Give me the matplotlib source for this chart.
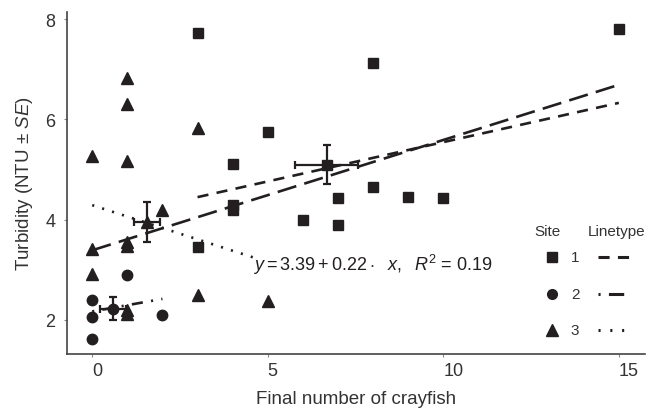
import matplotlib
matplotlib.use('Agg')
import matplotlib.pyplot as plt
from matplotlib.lines import Line2D

plt.rcParams['font.family'] = ['Liberation Sans', 'DejaVu Sans']
plt.rcParams['mathtext.fontset'] = 'custom'
plt.rcParams['mathtext.rm'] = 'Liberation Sans'
plt.rcParams['mathtext.it'] = 'Liberation Sans:italic'
plt.rcParams['lines.scale_dashes'] = False

INK = '#231f20'
TXT = '#333333'

# raw points per site
site1_x = [3, 5, 4, 4, 4, 3, 6, 7, 7, 8, 8, 9, 10, 15]
site1_y = [7.72, 5.74, 5.12, 4.30, 4.20, 3.46, 4.00, 4.43, 3.89, 7.12, 4.66, 4.45, 4.43, 7.80]
site2_x = [0, 0, 0, 1, 2]
site2_y = [2.40, 2.06, 1.62, 2.90, 2.10]
site3_x = [0, 1, 1, 1, 3, 2, 0, 1, 1, 0, 3, 5, 1, 1]
site3_y = [5.28, 6.83, 6.31, 5.17, 5.83, 4.19, 3.42, 3.55, 3.47, 2.92, 2.50, 2.38, 2.20, 2.12]

# site means with SE
mean_x = [6.68, 0.59, 1.55]
mean_y = [5.10, 2.22, 3.96]
se_x = [0.89, 0.38, 0.37]
se_y = [0.38, 0.23, 0.40]

# fitted lines (end points)
fit1_x = [3, 15];  fit1_y = [4.45, 6.33]
fit2_x = [0, 2];   fit2_y = [2.17, 2.42]
fit3_x = [0, 4.75]; fit3_y = [4.29, 3.21]
fitall_x = [0, 15]; fitall_y = [3.39, 6.69]

markers = ['s', 'o', '^']
msizes = [7.5, 7.5, 9]
site_labels = ['1', '2', '3']
dash1 = (0, (8, 6))
dash2 = (0, (1.5, 6, 8, 6))
dash3 = (0, (1.5, 6))
dash_all = (0, (14, 6))

fig = plt.figure(figsize=(6.5, 4.1), dpi=100)
ax = fig.add_axes([0.103, 0.134, 0.889, 0.834])

ax.plot(fitall_x, fitall_y, color=INK, lw=1.9, linestyle=dash_all, zorder=2)
ax.plot(fit1_x, fit1_y, color=INK, lw=1.9, linestyle=dash1, zorder=2)
ax.plot(fit2_x, fit2_y, color=INK, lw=1.9, linestyle=dash2, zorder=2)
ax.plot(fit3_x, fit3_y, color=INK, lw=1.9, linestyle=dash3, zorder=2)

for xs, ys, m, s in zip([site1_x, site2_x, site3_x], [site1_y, site2_y, site3_y], markers, msizes):
    ax.plot(xs, ys, linestyle='none', marker=m, markersize=s, color=INK, zorder=3)

for i in range(3):
    ax.errorbar(mean_x[i], mean_y[i], xerr=se_x[i], yerr=se_y[i], fmt=markers[i],
                markersize=msizes[i], color=INK, ecolor=INK, elinewidth=1.6,
                capsize=3, capthick=1.6, zorder=4)

ax.text(4.58, 3.12, r'$y = 3.39 + 0.22\cdot\ \ x,\ \ R^2$ = 0.19', fontsize=13,
        color=INK, ha='left', va='center')

ax.set_xlim(-0.72, 15.74)
ax.set_ylim(1.32, 8.14)
ax.set_xticks([0, 5, 10, 15])
ax.set_yticks([2, 4, 6, 8])
for sp in ['top', 'right']:
    ax.spines[sp].set_visible(False)
for sp in ['left', 'bottom']:
    ax.spines[sp].set_color('#444444')
    ax.spines[sp].set_linewidth(1.2)
ax.tick_params(length=2.5, width=0.8, color='#888888', labelsize=13, labelcolor=TXT, pad=3)
ax.tick_params(axis='y', pad=6)
for lab in ax.get_xticklabels():
    lab.set_ha('left')

ax.set_xlabel('Final number of crayfish', fontsize=13.5, color=TXT, labelpad=8)
ax.set_ylabel('Turbidity (NTU ± $SE$)', fontsize=13.5, color=TXT, labelpad=7)

# legend drawn by hand (two columns: Site / Linetype)
def fx(px):
    return px / 650.0

def fy(py):
    return 1 - py / 410.0

fig.text(fx(547), fy(232), 'Site', fontsize=11, color=TXT, ha='center', va='center')
fig.text(fx(617), fy(232), 'Linetype', fontsize=11, color=TXT, ha='center', va='center')
row_y = [258, 295, 331]
leg_styles = [dash1, (0, (1.5, 6, 11, 6)), (0, (1.5, 7))]
for i in range(3):
    fig.add_artist(Line2D([fx(552)], [fy(row_y[i])], marker=markers[i], markersize=msizes[i] - 0.5,
                          color=INK, linestyle='none'))
    fig.text(fx(575), fy(row_y[i]), site_labels[i], fontsize=11, color=TXT, ha='center', va='center')
    fig.add_artist(Line2D([fx(598), fx(630)], [fy(row_y[i]), fy(row_y[i])], color=INK, lw=2.2,
                          linestyle=leg_styles[i]))

fig.savefig('out.png', dpi=100)
